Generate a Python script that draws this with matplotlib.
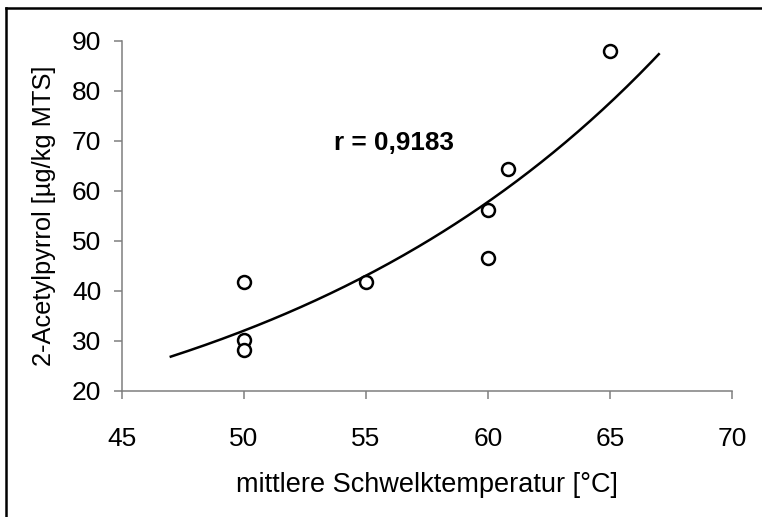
import numpy as np
import matplotlib
matplotlib.use("Agg")
import matplotlib.pyplot as plt
from matplotlib.lines import Line2D

plt.rcParams['font.family'] = ['Liberation Sans', 'DejaVu Sans']

# Data
temperature = [50, 50, 50, 55, 60, 60, 60.8, 65]
acetylpyrrol = [41.9, 30.3, 28.2, 41.9, 56.3, 46.6, 64.5, 88.1]
trend_range = [47, 67]
x_ticks = [45, 50, 55, 60, 65, 70]
y_ticks = [20, 30, 40, 50, 60, 70, 80, 90]
r_label = "r = 0,9183"
x_label = "mittlere Schwelktemperatur [°C]"
y_label = "2-Acetylpyrrol [µg/kg MTS]"

fig = plt.figure(figsize=(7.62, 5.17), dpi=100)
ax = fig.add_axes([122 / 762, 1 - 391 / 517, 610 / 762, 350 / 517])

# exponential trendline (least squares on log values, as in a spreadsheet trendline)
b, ln_a = np.polyfit(temperature, np.log(acetylpyrrol), 1)
xt = np.linspace(trend_range[0], trend_range[1], 200)
ax.plot(xt, np.exp(ln_a) * np.exp(b * xt), color='black', lw=1.8, zorder=2)

ax.plot(temperature, acetylpyrrol, linestyle='none', marker='o', ms=9.3,
        mfc='white', mec='black', mew=1.8, zorder=3, clip_on=False)

ax.set_xlim(x_ticks[0], x_ticks[-1])
ax.set_ylim(y_ticks[0], y_ticks[-1])
ax.set_xticks(x_ticks)
ax.set_yticks(y_ticks)

for s in ['top', 'right']:
    ax.spines[s].set_visible(False)
for s in ['left', 'bottom']:
    ax.spines[s].set_color('#7f7f7f')
    ax.spines[s].set_linewidth(1.1)

ax.tick_params(axis='both', direction='out', length=6, width=1.1,
               color='#7f7f7f', labelsize=19, labelcolor='black')
ax.tick_params(axis='x', pad=20)
ax.tick_params(axis='y', pad=9)

ax.set_xlabel(x_label, fontsize=19.5, va='center')
ax.xaxis.set_label_coords(0.5, (391 - 485) / 350)
ax.set_ylabel(y_label, fontsize=18.3, va='center')
ax.yaxis.set_label_coords((44 - 122) / 610, 0.5)

ax.text(53.7, 69.6, r_label, fontsize=18.8, fontweight='bold',
        ha='left', va='center')

# outer frame (left and top edges visible)
fig.add_artist(Line2D([6 / 762, 6 / 762], [0, 1 - 7.5 / 517],
                      transform=fig.transFigure, color='black', lw=1.8))
fig.add_artist(Line2D([6 / 762, 1], [1 - 7.5 / 517, 1 - 7.5 / 517],
                      transform=fig.transFigure, color='black', lw=1.8))

fig.savefig('out.png', dpi=100, facecolor='white')
